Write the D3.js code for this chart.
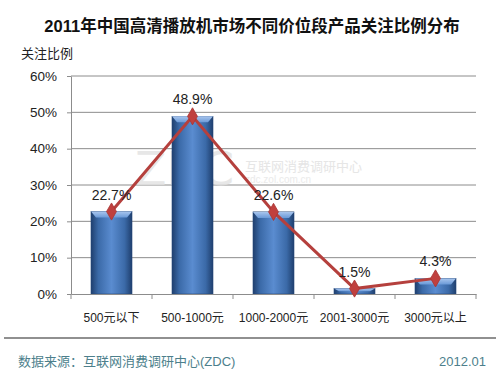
<html><head>
<style>
body { margin: 0; padding: 0; background: white; }
svg { display: block; }
</style>
</head>
<body>
<svg id="chart" width="500" height="375"></svg>
<script src="https://cdnjs.cloudflare.com/ajax/libs/d3/7.8.5/d3.min.js"></script>
<script>
const categories = ["500元以下", "500-1000元", "1000-2000元", "2001-3000元", "3000元以上"];
const values = [22.7, 48.9, 22.6, 1.5, 4.3];
const yTicks = [0, 10, 20, 30, 40, 50, 60];

const svg = d3.select("#chart");
const font = "'Liberation Sans', 'Noto Sans CJK SC', sans-serif";
const margin = { left: 71, right: 24, top: 76, bottom: 81 };
const W = 500, H = 375;

const x = d3.scaleBand().domain(categories).range([margin.left, W - margin.right]).padding(0);
const y = d3.scaleLinear().domain([0, 60]).range([H - margin.bottom, margin.top]);

// gradient for bars
const defs = svg.append("defs");
const g1 = defs.append("linearGradient").attr("id", "barGrad").attr("x1", 0).attr("x2", 1).attr("y1", 0).attr("y2", 0);
g1.append("stop").attr("offset", "0%").attr("stop-color", "#1f3f6e");
g1.append("stop").attr("offset", "18%").attr("stop-color", "#3b6aa8");
g1.append("stop").attr("offset", "50%").attr("stop-color", "#5a8cd0");
g1.append("stop").attr("offset", "82%").attr("stop-color", "#3b6aa8");
g1.append("stop").attr("offset", "100%").attr("stop-color", "#1f3f6e");
const g2 = defs.append("linearGradient").attr("id", "topGrad").attr("x1", 0).attr("x2", 0).attr("y1", 0).attr("y2", 1);
g2.append("stop").attr("offset", "0%").attr("stop-color", "#a9c6ee");
g2.append("stop").attr("offset", "100%").attr("stop-color", "#6b9ad8");

// title
svg.append("text").attr("x", 252).attr("y", 32).attr("text-anchor", "middle")
  .attr("font-family", font).attr("font-size", 16.5).attr("font-weight", "bold").attr("fill", "#111")
  .text("2011年中国高清播放机市场不同价位段产品关注比例分布");
svg.append("text").attr("x", 21).attr("y", 58)
  .attr("font-family", font).attr("font-size", 13).attr("fill", "#222").text("关注比例");

// gridlines
svg.append("g").selectAll("line").data(yTicks.filter(d => d > 0)).join("line")
  .attr("x1", margin.left).attr("x2", W - margin.right)
  .attr("y1", d => y(d)).attr("y2", d => y(d))
  .attr("stroke", "#8c8c8c").attr("stroke-width", 1);

// watermark
svg.append("text").attr("x", 135).attr("y", 185).attr("font-family", "'DejaVu Sans', sans-serif")
  .attr("font-size", 46).attr("fill", "#e2e2e2").attr("opacity", 0.8).text("ZDC");
svg.append("text").attr("x", 245).attr("y", 171).attr("font-family", font)
  .attr("font-size", 13).attr("fill", "#e0e0e0").attr("opacity", 0.8).text("互联网消费调研中心");
svg.append("text").attr("x", 245).attr("y", 183).attr("font-family", font)
  .attr("font-size", 10).attr("fill", "#e6e6e6").attr("opacity", 0.8).text("zdc.zol.com.cn");

// y axis
const yAxis = svg.append("g").attr("transform", `translate(${margin.left},0)`)
  .call(d3.axisLeft(y).tickValues(yTicks).tickFormat(d => d + "%").tickSize(0).tickPadding(14));
yAxis.select(".domain").attr("stroke", "#8c8c8c");
yAxis.selectAll("text").attr("font-family", font).attr("font-size", 13.5).attr("fill", "#222");
yAxis.selectAll(".tick").append("line").attr("x1", -4).attr("x2", 0).attr("stroke", "#8c8c8c");

// bars
const barW = 41;
const bars = svg.append("g").selectAll("g").data(values).join("g");
bars.append("rect")
  .attr("x", (d, i) => x(categories[i]) + x.bandwidth() / 2 - barW / 2)
  .attr("y", d => y(d)).attr("width", barW).attr("height", d => y(0) - y(d))
  .attr("fill", "url(#barGrad)").attr("stroke", "#27497a").attr("stroke-width", 0.6);
bars.append("path")
  .attr("d", (d, i) => {
    const x0 = x(categories[i]) + x.bandwidth() / 2 - barW / 2, x1 = x0 + barW, t = y(d);
    const b = Math.min(6, (y(0) - y(d)) / 2);
    return `M${x0},${t}L${x1},${t}L${x1 - 5},${t + b}L${x0 + 5},${t + b}Z`;
  })
  .attr("fill", "url(#topGrad)");

// x axis
const xAxis = svg.append("g").attr("transform", `translate(0,${y(0)})`)
  .call(d3.axisBottom(x).tickSize(0).tickPadding(19));
xAxis.select(".domain").attr("stroke", "#8c8c8c");
xAxis.selectAll("text").attr("font-family", font).attr("font-size", 12).attr("fill", "#222");
const edges = categories.map(c => x(c)).concat([x.range()[1]]);
xAxis.selectAll(".edge").data(edges).join("line").attr("class", "edge")
  .attr("x1", d => d).attr("x2", d => d).attr("y1", 0).attr("y2", 5).attr("stroke", "#8c8c8c");

// line
const line = d3.line().x((d, i) => x(categories[i]) + x.bandwidth() / 2).y(d => y(d));
svg.append("path").datum(values).attr("d", line).attr("fill", "none")
  .attr("stroke", "#b5403d").attr("stroke-width", 3);
svg.append("g").selectAll("path").data(values).join("path")
  .attr("transform", (d, i) => `translate(${x(categories[i]) + x.bandwidth() / 2},${y(d)})`)
  .attr("d", d3.symbol().type(d3.symbolDiamond).size(85))
  .attr("fill", "#c0403e").attr("stroke", "#a83533").attr("stroke-width", 0.8);

// labels
svg.append("g").selectAll("text").data(values).join("text")
  .attr("x", (d, i) => x(categories[i]) + x.bandwidth() / 2)
  .attr("y", d => y(d) - 12)
  .attr("text-anchor", "middle").attr("font-family", font).attr("font-size", 14).attr("fill", "#222")
  .text(d => d.toFixed(1) + "%");

// footer
svg.append("line").attr("x1", 4).attr("x2", 496).attr("y1", 338).attr("y2", 338)
  .attr("stroke", "#222").attr("stroke-width", 1.2);
svg.append("text").attr("x", 18).attr("y", 366).attr("font-family", font).attr("font-size", 13)
  .attr("fill", "#4d7f8c").text("数据来源：互联网消费调研中心(ZDC)");
svg.append("text").attr("x", 486).attr("y", 366).attr("text-anchor", "end").attr("font-family", font)
  .attr("font-size", 13).attr("fill", "#4d7f8c").text("2012.01");
</script>
</body>
</html>
